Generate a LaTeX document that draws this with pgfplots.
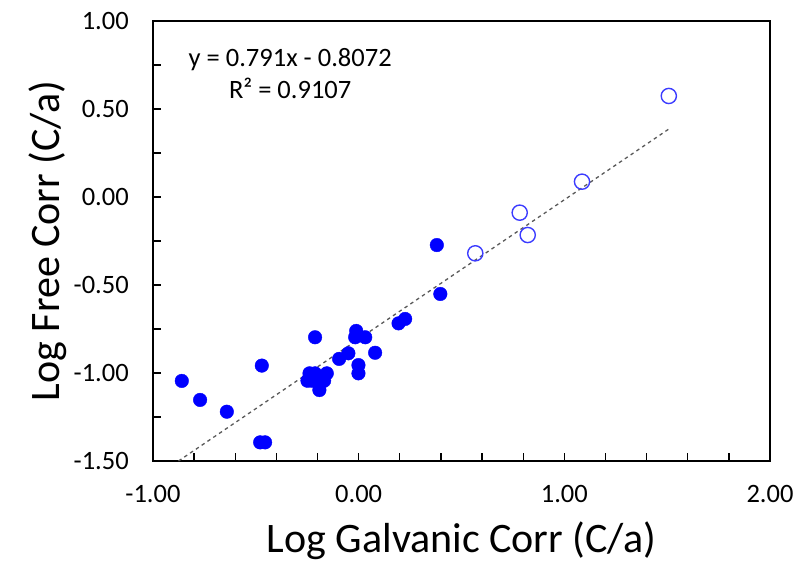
\documentclass[border=0pt]{standalone}
\usepackage{pgfplots}
\pgfplotsset{compat=1.18}
\usepackage{fontspec}
\setmainfont{Carlito}
\begin{document}
\begin{tikzpicture}
\begin{axis}[
  scale only axis, width=617pt, height=440pt,
  at={(0,0)}, anchor=south west,
  xmin=-1, xmax=2, ymin=-1.5, ymax=1,
  axis line style={line width=1.6pt, black},
  tick align=inside, xtick pos=bottom, ytick pos=left,
  major tick length=8pt, minor tick length=8pt,
  tick style={line width=1.3pt, black},
  xtick={-1,0,1,2}, xticklabels={-1.00,0.00,1.00,2.00},
  ytick={-1.5,-1,-0.5,0,0.5,1}, yticklabels={-1.50,-1.00,-0.50,0.00,0.50,1.00},
  minor xtick={-0.8,-0.6,-0.4,-0.2,0.2,0.4,0.6,0.8,1.2,1.4,1.6,1.8},
  minor ytick={-1.25,-0.75,-0.25,0.25,0.75},
  ticklabel style={font=\fontsize{26.5}{30}\selectfont, inner sep=0pt},
  xticklabel style={yshift=-24pt},
  yticklabel style={xshift=-24pt},
  xlabel={Log Galvanic Corr (C/a)}, ylabel={Log Free Corr (C/a)},
  label style={font=\fontsize{42}{48}\selectfont},
  xlabel style={at={(axis description cs:0.5,0)}, anchor=base, yshift=-92pt},
  ylabel style={at={(axis description cs:-0.151,0.5)}, anchor=base},
  clip=false,
]
\addplot[only marks, mark=*, mark size=6.8pt, mark options={fill=blue, draw=blue}] coordinates {
(-0.860,-1.045) (-0.771,-1.153) (-0.641,-1.220) (-0.471,-0.958)
(-0.479,-1.394) (-0.455,-1.394) (-0.239,-1.002) (-0.212,-1.002)
(-0.249,-1.044) (-0.228,-1.044) (-0.155,-1.002) (-0.168,-1.044)
(-0.191,-1.097) (-0.095,-0.920) (-0.050,-0.888) (-0.001,-0.955)
(-0.001,-1.002) (0.080,-0.885) (-0.212,-0.797) (-0.012,-0.761)
(-0.017,-0.797) (0.032,-0.797) (0.194,-0.718) (0.226,-0.693)
(0.380,-0.273) (0.397,-0.551)
};
\addplot[only marks, mark=o, mark size=7.6pt, mark options={draw={rgb,255:red,60;green,60;blue,255}, line width=1.4pt, fill=none}] coordinates {
(0.567,-0.320) (0.783,-0.089) (0.822,-0.216) (1.086,0.087) (1.508,0.574)
};
\addplot[no marks, line width=1.3pt, color={rgb,255:red,89;green,89;blue,89}, dash pattern=on 3.5pt off 3.5pt] coordinates {
(-0.876,-1.5) (1.508,0.386)
};
\node[align=center, font=\fontsize{26.5}{32}\selectfont] at (axis cs:-0.333,0.70) {y = 0.791x - 0.8072\\R² = 0.9107};
\end{axis}
\pgfresetboundingbox
\path[use as bounding box] (-153pt,-103pt) rectangle (651pt,461pt);
\end{tikzpicture}
\end{document}
